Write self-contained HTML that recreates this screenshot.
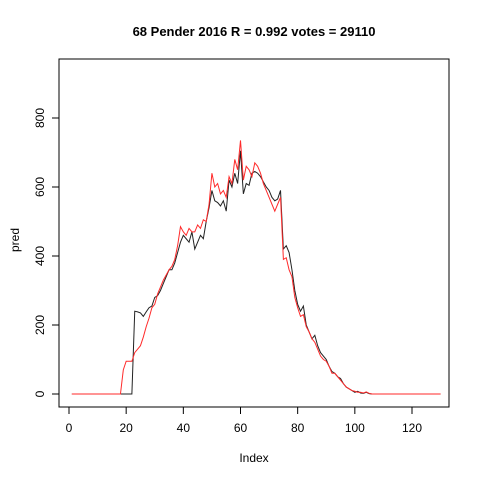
<!DOCTYPE html>
<html><head><meta charset="utf-8"><style>
html,body{margin:0;padding:0;background:#fff;}
svg{display:block;font-family:"Liberation Sans",Arial,sans-serif;}
</style></head><body>
<svg id="chart" width="480" height="480">
<text x="254" y="36" text-anchor="middle" font-size="13" font-weight="bold">68 Pender 2016 R = 0.992 votes = 29110</text>
<rect x="59" y="59" width="390" height="348" fill="none" stroke="#000"/>
<text x="254" y="462" text-anchor="middle" font-size="12">Index</text>
<text transform="translate(19,240) rotate(-90)" text-anchor="middle" font-size="12">pred</text>
<g id="xaxis"></g>
<g id="yaxis"></g>
<g id="series"></g>
</svg>
<script>
const xTicks=[0,20,40,60,80,100,120];
const yTicks=[0,200,400,600,800];
const actual=[0,0,0,0,0,0,0,0,0,0,0,0,0,0,0,0,0,0,0,0,0,0,240,238,235,225,238,250,255,280,285,300,320,340,360,360,380,410,440,460,450,440,470,420,440,460,450,500,540,590,560,555,545,560,530,620,600,640,610,705,580,610,605,640,645,640,630,615,600,590,570,560,565,590,420,430,410,360,300,260,240,255,200,180,160,170,140,120,110,100,80,65,60,50,45,30,20,15,10,5,8,3,2,5,1,0,0,0,0,0,0,0,0,0,0,0,0,0,0,0,0,0,0,0,0,0,0,0,0,0];
const predicted=[0,0,0,0,0,0,0,0,0,0,0,0,0,0,0,0,0,0,70,95,95,95,120,130,140,165,195,220,250,260,290,310,330,345,360,370,390,430,485,470,460,480,470,470,490,480,505,500,550,640,600,610,580,590,570,630,610,680,650,735,620,660,650,630,670,660,640,610,590,570,550,530,550,570,390,395,360,340,280,250,225,230,195,180,160,150,130,110,100,95,80,60,60,50,40,30,20,15,10,8,5,5,3,6,2,0,0,0,0,0,0,0,0,0,0,0,0,0,0,0,0,0,0,0,0,0,0,0,0,0];
const NS="http://www.w3.org/2000/svg";
const X=v=>69+(v)*(412-69)/120;
const Y=v=>394-v*(394-118)/800;
function mk(t,a,p){const e=document.createElementNS(NS,t);for(const k in a)e.setAttribute(k,a[k]);p.appendChild(e);return e;}
const xa=document.getElementById('xaxis'),ya=document.getElementById('yaxis'),sg=document.getElementById('series');
mk('line',{x1:X(0),x2:X(120),y1:407,y2:407,stroke:'#000'},xa);
xTicks.forEach(t=>{
 const l=mk('line',{x1:X(t),x2:X(t),y1:407,y2:414,stroke:'#000'},xa);
 
 
 const tx=mk('text',{x:X(t),y:432,'text-anchor':'middle','font-size':12},xa);tx.textContent=t;
 
 
});
mk('line',{x1:59,x2:59,y1:Y(0),y2:Y(800),stroke:'#000'},ya);
yTicks.forEach(t=>{
 const l=mk('line',{x1:52,x2:59,y1:Y(t),y2:Y(t),stroke:'#000'},ya);
 
 
 const tx=mk('text',{transform:`translate(44,${Y(t)}) rotate(-90)`,'text-anchor':'middle','font-size':12},ya);tx.textContent=t;
 
 
});
function line(arr,col,name){
 const d=arr.map((v,i)=>(i?'L':'M')+X(i+1).toFixed(2)+' '+Y(v).toFixed(2)).join(' ');
 const p=mk('path',{d:d,fill:'none',stroke:col,'stroke-width':1},sg);
 
 
}
line(actual,'#222','actual-line');
line(predicted,'#ff2a2a','predicted-line');
</script>
</body></html>
